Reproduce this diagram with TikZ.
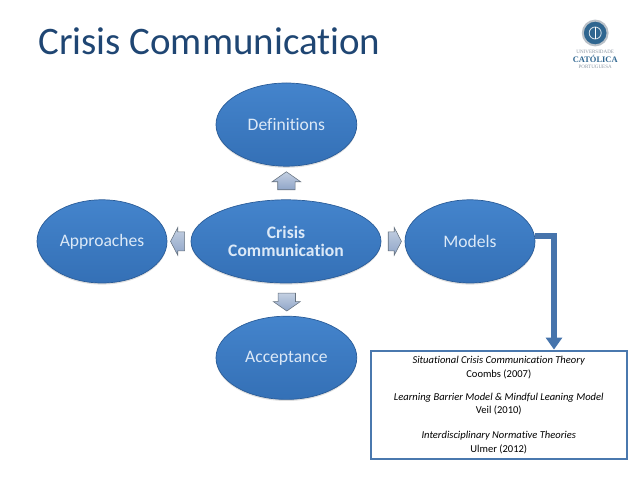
\documentclass[tikz,border=0pt]{standalone}
\usepackage{fontspec}
\setmainfont[Ligatures=NoCommon]{Carlito}
\newfontfamily\logofont{Liberation Serif}
\usetikzlibrary{arrows.meta,shapes.geometric,shapes.arrows,shadows}

\definecolor{titleblue}{HTML}{1F4673}
\definecolor{bubbletop}{HTML}{4484CC}
\definecolor{bubblemid}{HTML}{3A78C0}
\definecolor{bubblelow}{HTML}{3470B6}
\definecolor{bubbleedge}{HTML}{2A5C98}
\definecolor{bubbletext}{HTML}{DCE9F7}
\definecolor{linkblue}{HTML}{4674AC}
\definecolor{boxline}{HTML}{4A78AE}
\definecolor{logoblue}{HTML}{2F6690}
\definecolor{logogrey}{HTML}{8C97A3}
\definecolor{arrowtop}{HTML}{C4D0E2}
\definecolor{arrowlow}{HTML}{8FA5C8}
\definecolor{arrowedge}{HTML}{66727F}

\tikzset{
  bubble/.style={ellipse,inner sep=0pt,minimum height=2.08cm,draw=bubbleedge,line width=0.5pt,
    top color=bubbletop,middle color=bubblemid,bottom color=bubblelow,
    text=bubbletext,align=center,font=\fontsize{12.5}{13}\selectfont,
    drop shadow={shadow xshift=0pt,shadow yshift=-0.04cm,opacity=0.25}},
  blockarrow/.style={single arrow,inner sep=0pt,draw=arrowedge,line width=0.4pt,
    top color=arrowtop,bottom color=arrowlow},
}

\begin{document}
\begin{tikzpicture}

    \useasboundingbox (0,0) rectangle (15.95,11.975);

    % --- Title ---
    \node[anchor=base west,inner sep=0pt,text=titleblue,font=\fontsize{27.7}{30}\selectfont] (title) at (0.95,10.62) {Crisis Communication};

    % --- Bubbles ---
    \node[bubble,minimum width=3.52cm] (definitions) at (7.16,8.86) {Definitions};
    \node[bubble,minimum width=4.75cm,font=\fontsize{12.5}{12.8}\selectfont\bfseries] (crisis) at (7.15,5.94) {Crisis\\Communication};
    \node[bubble,minimum width=3.25cm] (approaches) at (2.55,5.94) {Approaches};
    \node[bubble,minimum width=3.25cm] (models) at (11.75,5.94) {Models};
    \node[bubble,minimum width=3.52cm] (acceptance) at (7.16,3.03) {Acceptance};

    % --- Block arrows between the bubbles ---
    \node[blockarrow,text height=0.42cm,text depth=0pt,minimum height=0.45cm,single arrow head extend=0.14cm,single arrow tip angle=110,rotate=90] (toDefinitions) at (7.16,7.38) {};
    \node[blockarrow,text height=0.42cm,text depth=0pt,minimum height=0.45cm,single arrow head extend=0.12cm,single arrow tip angle=110,rotate=-90] (toAcceptance) at (7.17,4.5) {};
    \node[blockarrow,text height=0.46cm,text depth=0pt,minimum height=0.35cm,single arrow head extend=0.11cm,single arrow tip angle=125,rotate=180] (toApproaches) at (4.5,5.94) {};
    \node[blockarrow,text height=0.46cm,text depth=0pt,minimum height=0.33cm,single arrow head extend=0.11cm,single arrow tip angle=125] (toModels) at (9.81,5.94) {};

    % --- Reference box ---
    \node[draw=boxline,line width=0.05cm,fill=white,minimum width=6.4cm,minimum height=2.72cm,inner sep=0pt,align=center,
      font=\fontsize{7.5}{9.5}\selectfont] (theories) at (12.47,1.85) {%
      \textit{Situational Crisis Communication Theory}\\
      Coombs (2007)\\[0.95em]
      \textit{Learning Barrier Model \& Mindful Leaning Model}\\
      Veil (2010)\\[1.1em]
      \textit{Interdisciplinary Normative Theories}\\
      Ulmer (2012)};

    % --- Link from Models to the box ---
    \draw[linkblue,line width=0.15cm,-{Triangle[width=0.4cm,length=0.3cm]}] (models.5) -| ([xshift=1.38cm]theories.north);

    % --- Logo ---
    \node[circle,draw=logogrey!60,line width=0.05cm,fill=logoblue,minimum size=0.62cm,inner sep=0pt] (seal) at (14.88,11.15) {};
    \node[circle,draw=white!80!logoblue,line width=0.02cm,minimum size=0.3cm,inner sep=0pt] (sealcore) at (seal) {};
    \draw[white,line width=0.02cm] (sealcore.north) -- (sealcore.south);
    \node[text=logogrey,inner sep=0pt,font=\logofont\fontsize{3.6}{4}\selectfont] (uni) at (14.88,10.68) {UNIVERSIDADE};
    \node[text=logoblue,inner sep=0pt,font=\logofont\fontsize{6}{6}\selectfont\bfseries] (catolica) at (14.88,10.5) {CATÓLICA};
    \node[text=logogrey,inner sep=0pt,font=\logofont\fontsize{3.6}{4}\selectfont] (port) at (14.88,10.3) {PORTUGUESA};

\end{tikzpicture}
\end{document}
